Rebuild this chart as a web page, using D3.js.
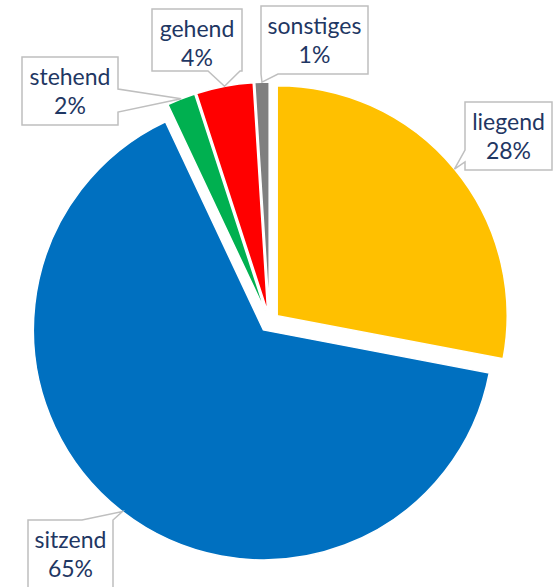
<!DOCTYPE html>
<html>
<head>
<meta charset="utf-8">
<script src="https://cdn.jsdelivr.net/npm/d3@7"></script>
<style>
  body { margin: 0; background: #fff; }
  .lbl { font-family: Lato, "Noto Sans", sans-serif; font-size: 23px; fill: #1f3763; }
</style>
</head>
<body>
<div class="chart_container"></div>
<script>
var width = 556
var height = 587

// data
var categories = ["liegend", "sitzend", "stehend", "gehend", "sonstiges"]
var shares = [28, 65, 2, 4, 1]
var colors = ["#FFC000", "#0070C0", "#00B050", "#FF0000", "#7F7F7F"]

// callout boxes (layout only): box edges, side with the pointer, pointer base
var boxes = [
  {x0: 465, y0: 102, x1: 552, y1: 170, side: "left",   base: [150, 162]},
  {x0: 28,  y0: 520, x1: 113, y1: 600, side: "top",    base: [82, 113]},
  {x0: 22,  y0: 57,  x1: 118, y1: 125, side: "right",  base: [89, 112]},
  {x0: 152, y0: 9,   x1: 242, y1: 71,  side: "bottom", base: [208, 240]},
  {x0: 261, y0: 6,   x1: 368, y1: 74,  side: "bottom", base: [261, 278]}
]

var cx = 269.5, cy = 322
var radius = 230
var explode = 10

var svg = d3.select(".chart_container").append("svg")
            .attr("width", width)
            .attr("height", height);

var pie = d3.pie().sort(null).value(function(d) { return d; });
var arcs = pie(shares);

var arc = d3.arc().innerRadius(0).outerRadius(radius);

function mid(d) { return (d.startAngle + d.endAngle) / 2; }

var slices = svg.append("g")
  .attr("transform", "translate(" + cx + "," + cy + ")")
  .selectAll("path")
  .data(arcs)
  .enter()
  .append("path")
  .attr("transform", function(d) {
    var a = mid(d);
    return "translate(" + (Math.sin(a) * explode) + "," + (-Math.cos(a) * explode) + ")";
  })
  .attr("d", arc)
  .style("fill", function(d, i) { return colors[i]; })
  .style("stroke", "#fff")
  .style("stroke-width", 1.5);

function tipPoint(d) {
  var a = mid(d);
  var r = radius + explode;
  return [cx + Math.sin(a) * r, cy - Math.cos(a) * r];
}

function calloutPath(b, tip) {
  var p = [];
  p.push([b.x0, b.y0]);
  if (b.side == "top") p.push([b.base[0], b.y0], tip, [b.base[1], b.y0]);
  p.push([b.x1, b.y0]);
  if (b.side == "right") p.push([b.x1, b.base[0]], tip, [b.x1, b.base[1]]);
  p.push([b.x1, b.y1]);
  if (b.side == "bottom") p.push([b.base[1], b.y1], tip, [b.base[0], b.y1]);
  p.push([b.x0, b.y1]);
  if (b.side == "left") p.push([b.x0, b.base[1]], tip, [b.x0, b.base[0]]);
  return "M" + p.map(function(q) { return q[0] + "," + q[1]; }).join("L") + "Z";
}

var labels = svg.append("g")
  .selectAll("g")
  .data(arcs)
  .enter()
  .append("g");

labels.append("path")
  .attr("d", function(d, i) { return calloutPath(boxes[i], tipPoint(d)); })
  .style("fill", "#fff")
  .style("stroke", "#bfbfbf")
  .style("stroke-width", 1.5);

labels.append("text")
  .attr("class", "lbl")
  .attr("text-anchor", "middle")
  .attr("x", function(d, i) { return (boxes[i].x0 + boxes[i].x1) / 2; })
  .attr("y", function(d, i) { return boxes[i].y0 + 28; })
  .text(function(d, i) { return categories[i]; });

labels.append("text")
  .attr("class", "lbl")
  .attr("text-anchor", "middle")
  .attr("x", function(d, i) { return (boxes[i].x0 + boxes[i].x1) / 2; })
  .attr("y", function(d, i) { return boxes[i].y0 + 57; })
  .text(function(d, i) { return shares[i] + "%"; });
</script>
</body>
</html>
